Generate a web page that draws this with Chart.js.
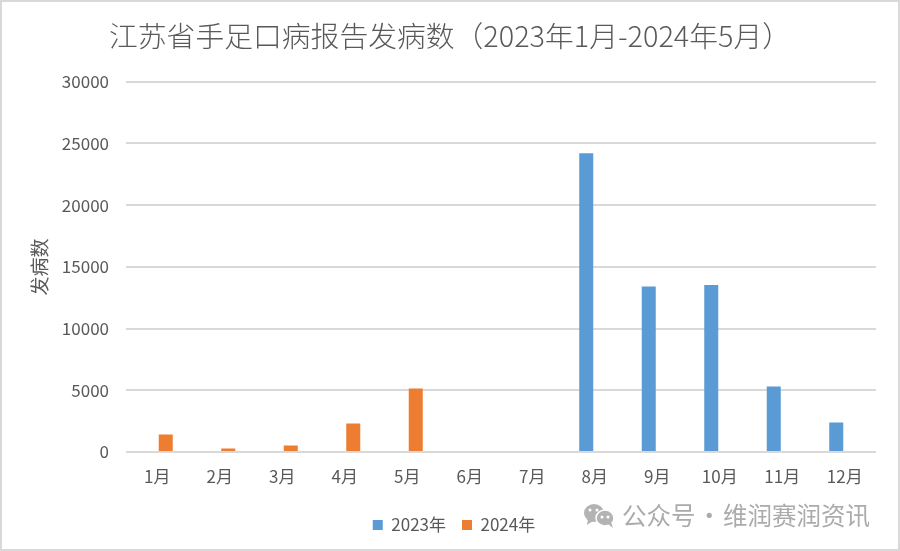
<!DOCTYPE html>
<html><head><meta charset="utf-8">
<style>
html,body{margin:0;padding:0;background:#fff;overflow:hidden}
#w{position:relative;width:900px;height:551px}
#b{position:absolute;inset:0;border:2px solid #D9D9D9;box-sizing:border-box;pointer-events:none}
canvas{position:absolute;left:0;top:0}
</style>
<script src="https://cdn.jsdelivr.net/npm/chart.js@4/dist/chart.umd.min.js"></script>
</head><body>
<div id="w"><canvas id="c" width="900" height="551"></canvas><div id="b"></div></div>
<script>
const categories=['1月','2月','3月','4月','5月','6月','7月','8月','9月','10月','11月','12月'];
const series2023=[null,null,null,null,null,null,null,24200,13420,13530,5310,2390];
const series2024=[1420,290,530,2310,5150,null,null,null,null,null,null,null];
const yTicks=[0,5000,10000,15000,20000,25000,30000];
const FONT='"Noto Sans CJK SC","Noto Sans",sans-serif';
const INK='#595959';
const shift={id:'shift',afterLayout(ch){ch.titleBlock.left-=4;ch.titleBlock.right-=4;}};
const mark={id:'mark',afterDraw(ch){
  const c=ch.ctx;c.save();
  c.fillStyle='#B3B3B3';
  c.beginPath();c.ellipse(594,513,10,9,0,0,7);c.fill();
  c.beginPath();c.moveTo(588,519);c.lineTo(587,525);c.lineTo(593,521);c.fill();
  c.strokeStyle='#fff';c.lineWidth=1.5;c.fillStyle='#B3B3B3';
  c.beginPath();c.ellipse(605,518,9,8,0,0,7);c.fill();c.stroke();
  c.beginPath();c.moveTo(608,524);c.lineTo(613,528);c.lineTo(611,522);c.fill();
  c.fillStyle='#fff';
  [[590,510],[597,510],[602,517],[608,517]].forEach(p=>{c.beginPath();c.arc(p[0],p[1],1.5,0,7);c.fill();});
  c.fillStyle='#ABABAB';c.font='24.5px '+FONT;c.wordSpacing='-4px';c.textAlign='left';c.textBaseline='middle';
  c.fillText('公众号 · 维润赛润资讯',622,516);
  c.restore();
}};
new Chart(document.getElementById('c'),{
  type:'bar',
  data:{labels:categories,datasets:[
    {label:'2023年',data:series2023,backgroundColor:'#5B9BD5'},
    {label:'2024年',data:series2024,backgroundColor:'#ED7D31'}]},
  plugins:[shift,mark],
  options:{
    responsive:false,animation:false,
    layout:{padding:{left:32,right:24,top:0,bottom:7.5}},
    datasets:{bar:{barPercentage:0.824,categoryPercentage:0.544}},
    plugins:{
      title:{display:true,text:'江苏省手足口病报告发病数（2023年1月-2024年5月）',color:INK,
        font:{family:FONT,size:28.8,weight:'300'},padding:{top:18.6,bottom:28.6}},
      legend:{position:'bottom',labels:{boxWidth:10,boxHeight:10,color:INK,padding:16,font:{family:FONT,size:17}}},
      tooltip:{enabled:false}
    },
    scales:{
      x:{grid:{display:false},border:{display:false},
        ticks:{color:INK,font:{family:FONT,size:17},padding:6,maxRotation:0},
        afterFit(s){s.height=48.5;}},
      y:{min:0,max:30000,afterBuildTicks(s){s.ticks=yTicks.map(v=>({value:v}));},
        grid:{color:'#D9D9D9',lineWidth:2,drawTicks:false},border:{display:false},
        ticks:{color:INK,font:{family:FONT,size:17},padding:17,callback:v=>String(v)},
        title:{display:true,text:'发病数',color:INK,font:{family:FONT,size:19},padding:{top:-3.5,bottom:0}},
        afterFit(s){s.width=94;}}
    }
  }
});
</script>
</body></html>
